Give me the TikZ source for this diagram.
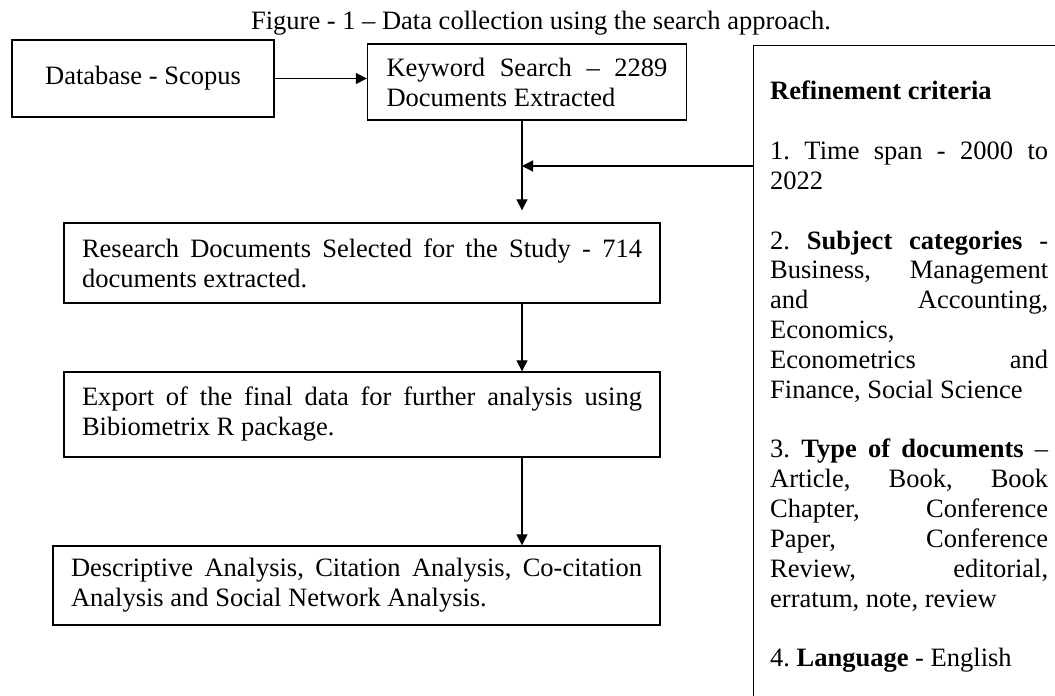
\documentclass[tikz,border=0pt]{standalone}
\usepackage{fontspec}
\setmainfont{Liberation Serif}
\usetikzlibrary{arrows.meta}
\newcommand{\jl}[2]{{\spaceskip=0pt\xspaceskip=0pt\makebox[#1][s]{#2}}}
\begin{document}
\begin{tikzpicture}[x=1pt,y=-1pt,
  box/.style={draw=black, line width=1.4pt, inner sep=0pt, align=flush left},
  arr/.style={line width=1.3pt, -{Triangle[length=11pt,width=11pt]}},
  font=\fontsize{26.5}{30}\selectfont\frenchspacing]
\clip (0,0) rectangle (1055,696);
\fill[white] (0,0) rectangle (1055,696);

\node[anchor=base] (title) at (541,29) {Figure - 1 – Data collection using the search approach.};

\node[box, minimum width=262pt, minimum height=77pt] (db) at (143,78.5) {Database - Scopus};
\node[box, minimum width=319pt, minimum height=76pt, text width=281pt] (kw) at (527,82)
  {\jl{281pt}{Keyword Search – 2289}\\Documents Extracted};
\node[box, minimum width=596pt, minimum height=80pt, text width=560pt] (rs) at (362,263)
  {\jl{560pt}{Research Documents Selected for the Study - 714}\\documents extracted.};
\node[box, minimum width=596pt, minimum height=85pt, text width=560pt] (ex) at (362,414.5)
  {\jl{560pt}{Export of the final data for further analysis using}\\Bibiometrix R package.};
\node[box, minimum width=607pt, minimum height=79pt, text width=571pt] (da) at (356.5,585.5)
  {\jl{571pt}{Descriptive Analysis, Citation Analysis, Co-citation}\\Analysis and Social Network Analysis.};

\node[draw=black, line width=1.4pt, anchor=north west, minimum width=400pt, minimum height=700pt, inner sep=0pt] (crit) at (753,45) {};
\node[anchor=north west, inner sep=0pt, text width=278pt, align=flush left,
      font=\fontsize{26.5}{29.84}\selectfont\frenchspacing] (crittext) at (770,81) {%
\textbf{Refinement criteria}\\
\mbox{}\\
\jl{278pt}{1. Time span - 2000 to}\\
2022\\
\mbox{}\\
\jl{278pt}{2. \textbf{Subject categories} -}\\
\jl{278pt}{Business, Management}\\
\jl{278pt}{and Accounting,}\\
Economics,\\
\jl{278pt}{Econometrics and}\\
Finance, Social Science\\
\mbox{}\\
\jl{278pt}{3. \textbf{Type of documents} –}\\
\jl{278pt}{Article, Book, Book}\\
\jl{278pt}{Chapter, Conference}\\
\jl{278pt}{Paper, Conference}\\
\jl{278pt}{Review, editorial,}\\
erratum, note, review\\
\mbox{}\\
4. \textbf{Language} - English};

\coordinate (ax) at (522,0);
\coordinate (fb) at ([yshift=-121pt]crit.north west);
\draw[arr] (db.east) -- (db.east -| kw.west);
\draw[arr, shorten >=12pt] (ax |- kw.south) -- (ax |- rs.north);
\draw[arr] (fb) -- (ax |- fb);
\draw[arr] (ax |- rs.south) -- (ax |- ex.north);
\draw[arr] (ax |- ex.south) -- (ax |- da.north);
\end{tikzpicture}
\end{document}
